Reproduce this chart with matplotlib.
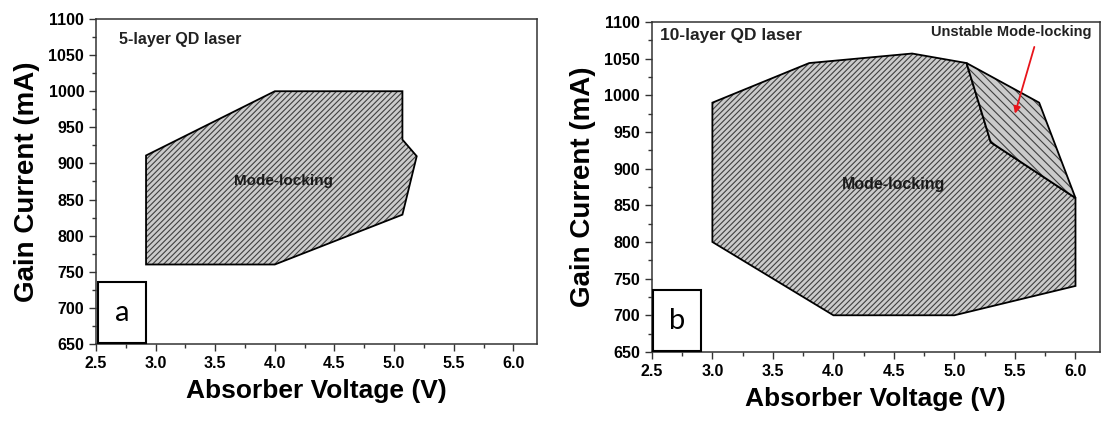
import matplotlib
matplotlib.use("Agg")
import matplotlib.pyplot as plt
from matplotlib.patches import Polygon, Rectangle
from matplotlib.ticker import MultipleLocator

plt.rcParams["font.family"] = ["Liberation Sans", "DejaVu Sans"]
plt.rcParams["hatch.linewidth"] = 0.8

# 5-layer QD laser, mode-locking region (absorber voltage V, gain current mA)
ml5_volt = [2.92, 4.0, 5.07, 5.07, 5.19, 5.07, 4.0, 2.92]
ml5_curr = [911, 1000, 1000, 933, 910, 829, 760, 760]

# 10-layer QD laser, stable mode-locking region
ml10_volt = [3.0, 3.8, 4.65, 5.1, 5.3, 6.0, 6.0, 5.0, 4.0, 3.0]
ml10_curr = [990, 1044, 1057, 1044, 936, 860, 740, 700, 700, 800]

# 10-layer QD laser, unstable mode-locking region
uml10_volt = [5.1, 5.7, 6.0, 5.3]
uml10_curr = [1044, 990, 860, 936]

x_range = (2.5, 6.2)
y_range = (650, 1100)
fill_grey = "#cbcbcb"
hatch_grey = "#404040"


def draw_region(ax, volt, curr, hatch):
    pts = list(zip(volt, curr))
    ax.add_patch(Polygon(pts, closed=True, facecolor=fill_grey,
                         edgecolor=hatch_grey, hatch=hatch, linewidth=0))
    ax.add_patch(Polygon(pts, closed=True, fill=False,
                         edgecolor="black", linewidth=1.3))


def style_axes(ax):
    ax.set_xlim(*x_range)
    ax.set_ylim(*y_range)
    ax.xaxis.set_major_locator(MultipleLocator(0.5))
    ax.xaxis.set_minor_locator(MultipleLocator(0.25))
    ax.yaxis.set_major_locator(MultipleLocator(50))
    ax.yaxis.set_minor_locator(MultipleLocator(25))
    ax.tick_params(which="major", direction="out", length=5, width=1,
                   labelsize=11.5, color="#333333")
    ax.tick_params(which="minor", direction="out", length=3, width=1,
                   color="#333333")
    ax.tick_params(top=False, right=False, which="both")
    for lab in ax.get_xticklabels() + ax.get_yticklabels():
        lab.set_fontweight("bold")
    for sp in ax.spines.values():
        sp.set_color("#333333")
        sp.set_linewidth(1.1)
    ax.set_xlabel("Absorber Voltage (V)", fontsize=19, fontweight="bold",
                  labelpad=6)
    ax.set_ylabel("Gain Current (mA)", fontsize=20, fontweight="bold",
                  labelpad=6)


fig = plt.figure(figsize=(11.03, 4.23), dpi=100)
ax_a = fig.add_axes([0.087, 0.187, 0.400, 0.768])
ax_b = fig.add_axes([0.591, 0.168, 0.406, 0.780])

# panel a
draw_region(ax_a, ml5_volt, ml5_curr, "//////")
style_axes(ax_a)
ax_a.text(2.69, 1071, "5-layer QD laser", fontsize=11.5, fontweight="bold",
          ha="left", va="center", color="#222222")
ax_a.text(4.07, 875, "Mode-locking", fontsize=11, fontweight="bold",
          ha="center", va="center", color="#1a1a1a")

# panel b
draw_region(ax_b, ml10_volt, ml10_curr, "//////")
draw_region(ax_b, uml10_volt, uml10_curr, "\\\\\\\\")
style_axes(ax_b)
ax_b.text(2.566, 1081, "10-layer QD laser", fontsize=12.5, fontweight="bold",
          ha="left", va="center", color="#222222")
ax_b.text(4.5, 879, "Mode-locking", fontsize=11.5, fontweight="bold",
          ha="center", va="center", color="#1a1a1a")
ax_b.text(6.13, 1087, "Unstable Mode-locking", fontsize=10.5, fontweight="bold",
          ha="right", va="center", color="#222222")
ax_b.annotate("", xy=(5.5, 975), xytext=(5.66, 1066),
              arrowprops=dict(arrowstyle="-|>", color="#e8141b", lw=1.3,
                              mutation_scale=10, shrinkA=0, shrinkB=0))

# panel letters in boxes (figure pixel positions)
W, H = 1103, 423
for letter, (x0, x1, y0, y1) in [("a", (98, 146, 282, 343)),
                                 ("b", (653, 701, 290, 351))]:
    fig.add_artist(Rectangle((x0 / W, 1 - y1 / H), (x1 - x0) / W,
                             (y1 - y0) / H, transform=fig.transFigure,
                             facecolor="white", edgecolor="black",
                             linewidth=1.5, zorder=5))
    fig.text((x0 + x1) / 2 / W, 1 - (y0 + y1) / 2 / H, letter,
             fontsize=21, family=["Lato", "DejaVu Sans"],
             ha="center", va="center", zorder=6)

fig.savefig("out.png", dpi=100)
